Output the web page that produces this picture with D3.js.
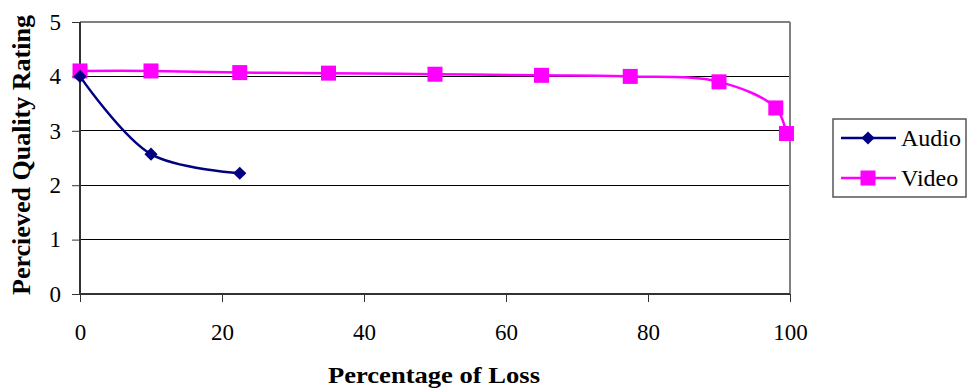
<!DOCTYPE html>
<html><head><meta charset="utf-8">
<script src="https://cdn.jsdelivr.net/npm/d3@7"></script>
<style>
html,body{margin:0;padding:0;background:#fff;}
svg{display:block;}
svg text{font-family:"Liberation Serif","Times New Roman",serif;}
</style></head>
<body>
<svg id="c" width="967" height="391"></svg>
<script>
const audioX = [0, 10, 22.5];
const audioY = [4.0, 2.57, 2.22];
const videoX = [0, 10, 22.5, 35, 50, 65, 77.5, 90, 98, 99.5];
const videoY = [4.10, 4.10, 4.07, 4.06, 4.04, 4.02, 4.00, 3.90, 3.42, 2.95];
const xTicks = [0, 20, 40, 60, 80, 100];
const yTicks = [0, 1, 2, 3, 4, 5];
const seriesNames = ["Audio", "Video"];
const xTitle = "Percentage of Loss";
const yTitle = "Percieved Quality Rating";

const FONT = '"Liberation Serif", "Times New Roman", serif';
const svg = d3.select("#c");
const L = 80, R = 790, T = 22, B = 294;
const x = d3.scaleLinear().domain([0, 100]).range([L, R]);
const y = d3.scaleLinear().domain([0, 5]).range([B, T]);

// gridlines
svg.append("g").selectAll("line").data(yTicks.filter(d => d > 0 && d < 5)).join("line")
  .attr("x1", L).attr("x2", R).attr("y1", d => y(d)).attr("y2", d => y(d))
  .attr("stroke", "#000").attr("stroke-width", 1).attr("shape-rendering", "crispEdges");
// top and right border (gray)
svg.append("line").attr("x1", L).attr("x2", R).attr("y1", y(5)).attr("y2", y(5))
  .attr("stroke", "#808080").attr("stroke-width", 2);
svg.append("line").attr("x1", R).attr("x2", R).attr("y1", T).attr("y2", B)
  .attr("stroke", "#808080").attr("stroke-width", 2);

// axes
const yAxis = d3.axisLeft(y).tickValues(yTicks).tickSize(8).tickPadding(11).tickFormat(d3.format("d"));
const gy = svg.append("g").attr("transform", `translate(${L},0)`).call(yAxis);
const xAxis = d3.axisBottom(x).tickValues(xTicks).tickSize(8).tickPadding(22).tickFormat(d3.format("d"));
const gx = svg.append("g").attr("transform", `translate(0,${B})`).call(xAxis);
[gx, gy].forEach(g => {
  g.attr("font-family", null);
  g.select(".domain").attr("stroke", "#333").attr("stroke-width", 2);
  g.selectAll(".tick line").attr("stroke", "#333").attr("stroke-width", 1);
  g.selectAll(".tick text").style("font-family", FONT).style("font-size", "23px").attr("fill", "#000");
});
gx.select(".domain").attr("d", `M${L},0H${R}`);
gy.select(".domain").attr("d", `M0,${B}V${T}`);

// titles
svg.append("text").attr("x", 434).attr("y", 383).attr("text-anchor", "middle")
  .style("font-family", FONT).style("font-weight", "bold").style("font-size", "24px")
  .attr("textLength", 212).attr("lengthAdjust", "spacingAndGlyphs").text(xTitle);
svg.append("text").attr("transform", `translate(30,155) rotate(-90)`).attr("text-anchor", "middle")
  .style("font-family", FONT).style("font-weight", "bold").style("font-size", "25px")
  .attr("textLength", 280).attr("lengthAdjust", "spacingAndGlyphs").text(yTitle);

const line = d3.line().x(d => x(d[0])).y(d => y(d[1])).curve(d3.curveCatmullRom.alpha(0.5));
const audio = audioX.map((v, i) => [v, audioY[i]]);
const video = videoX.map((v, i) => [v, videoY[i]]);

svg.append("path").datum(audio).attr("d", line).attr("fill", "none").attr("stroke", "#000080").attr("stroke-width", 2.5);
svg.append("path").datum(video).attr("d", line).attr("fill", "none").attr("stroke", "#FF00FF").attr("stroke-width", 2.5);

const diamond = d3.symbol().type(d3.symbolDiamond2).size(110);
svg.append("g").selectAll("rect").data(video).join("rect")
  .attr("x", d => x(d[0]) - 7.5).attr("y", d => y(d[1]) - 7.5).attr("width", 15).attr("height", 15)
  .attr("fill", "#FF00FF");
svg.append("g").selectAll("path").data(audio).join("path")
  .attr("transform", d => `translate(${x(d[0])},${y(d[1])})`)
  .attr("d", diamond).attr("fill", "#000080");

// legend
const lg = svg.append("g");
lg.append("rect").attr("x", 833).attr("y", 119).attr("width", 133).attr("height", 78)
  .attr("fill", "#fff").attr("stroke", "#555").attr("stroke-width", 1.5);
const colors = ["#000080", "#FF00FF"];
seriesNames.forEach((n, i) => {
  const yy = 138 + i * 40;
  lg.append("line").attr("x1", 841).attr("x2", 896).attr("y1", yy).attr("y2", yy)
    .attr("stroke", colors[i]).attr("stroke-width", 2.5);
  if (i === 0) {
    lg.append("path").attr("transform", `translate(868,${yy})`).attr("d", diamond).attr("fill", colors[i]);
  } else {
    lg.append("rect").attr("x", 868 - 7.5).attr("y", yy - 7.5).attr("width", 15).attr("height", 15).attr("fill", colors[i]);
  }
  lg.append("text").attr("x", 901).attr("y", yy + 8).style("font-family", FONT).style("font-size", "24px").text(n);
});
</script>
</body></html>
